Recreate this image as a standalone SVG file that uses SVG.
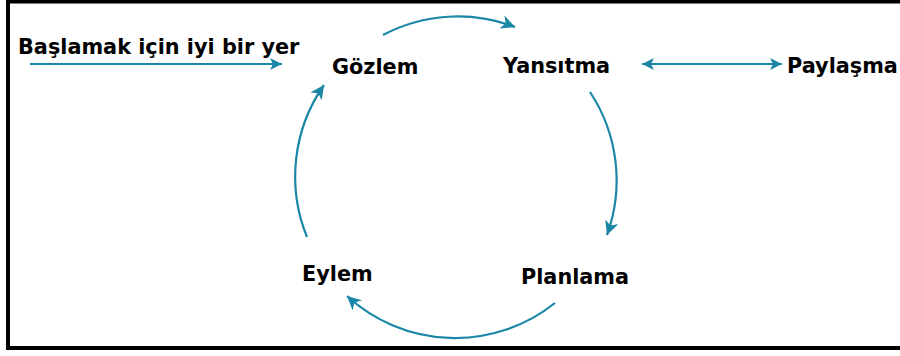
<svg xmlns="http://www.w3.org/2000/svg" width="900" height="356" viewBox="0 0 900 356">
<style>
.t{font-family:"DejaVu Sans","Liberation Sans",sans-serif;font-weight:bold;font-size:20.8px;fill:#000}
.c{fill:none;stroke:#1b87a6;stroke-width:2.2}
</style>
<defs>
<marker id="ah" markerUnits="userSpaceOnUse" markerWidth="16" markerHeight="14" refX="14" refY="7" orient="auto" viewBox="0 0 16 14">
<path d="M0,0 L14,7 L0,14 L4,7 z" fill="#1b87a6"/>
</marker>
<marker id="as" markerUnits="userSpaceOnUse" markerWidth="14" markerHeight="12" refX="12" refY="6" orient="auto-start-reverse" viewBox="0 0 14 12">
<path d="M0,0 L12,6 L0,12 L3,6 z" fill="#1b87a6"/>
</marker>
</defs>
<rect x="0" y="0" width="900" height="356" fill="#fff"/>
<path d="M902,1.5 H8 V348 H902" fill="none" stroke="#000" stroke-width="4"/>
<g id="connectors">
<path class="c" d="M30,64 H282" marker-end="url(#as)"/>
<path class="c" d="M642,64 H782" marker-start="url(#as)" marker-end="url(#as)"/>
<path class="c" d="M383,35 A160,160 0 0 1 515,27" marker-end="url(#ah)"/>
<path class="c" d="M590,92 A160,160 0 0 1 607,235" marker-end="url(#ah)"/>
<path class="c" d="M555,303 A160,160 0 0 1 347,296" marker-end="url(#ah)"/>
<path class="c" d="M307,237 A160,160 0 0 1 324,85" marker-end="url(#ah)"/>
</g>
<g id="start"><text class="t" x="18" y="54">Başlamak için iyi bir yer</text></g>
<g id="gozlem"><text class="t" x="332" y="74">Gözlem</text></g>
<g id="yansitma"><text class="t" x="503" y="73">Yansıtma</text></g>
<g id="paylasma"><text class="t" x="787" y="73">Paylaşma</text></g>
<g id="planlama"><text class="t" x="521" y="284">Planlama</text></g>
<g id="eylem"><text class="t" x="302" y="281">Eylem</text></g>
</svg>
